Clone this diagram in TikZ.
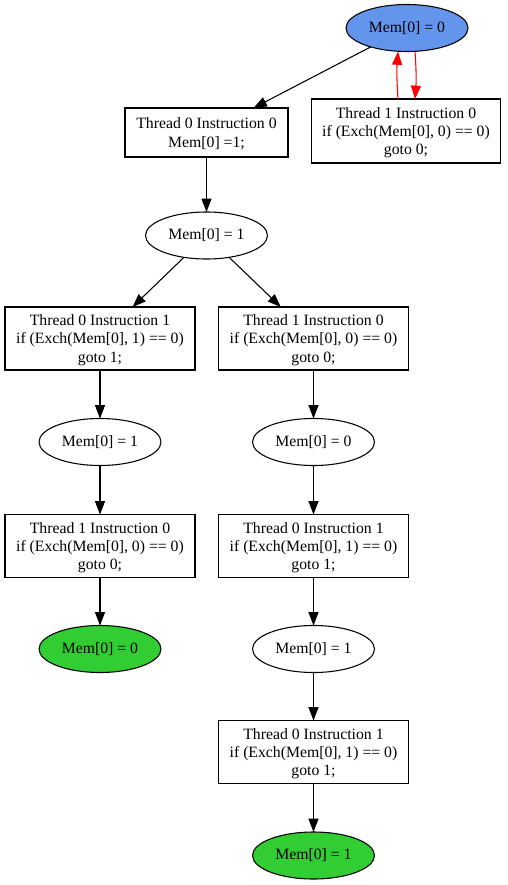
\documentclass[tikz,border=0pt]{standalone}
\usepackage{fontspec}
\setmainfont{Liberation Serif}
\newcommand*{\nodefont}{\fontsize{11.8pt}{13.75pt}\selectfont}
\definecolor{start}{RGB}{100,149,237}
\definecolor{final}{RGB}{50,205,50}
\definecolor{retry}{RGB}{255,0,0}
\usetikzlibrary{arrows.meta}
\usetikzlibrary{shapes.geometric}
\tikzstyle{base}=[x=0.75pt, y=-0.75pt, inner sep=0pt, outer sep=0pt]
\tikzstyle{state}=[draw=black, ellipse, line width=0.8pt, minimum width=91.5pt, minimum height=35.25pt]
\tikzstyle{instr}=[draw=black, rectangle, line width=0.8pt, align=center, minimum width=142.5pt, minimum height=47.25pt, text depth=-1.5pt]
\tikzstyle{arc}=[line width=0.8pt, -{Triangle[length=10pt,width=7.5pt]}]

\begin{document}
\begin{tikzpicture}[base]
    \nodefont
        \path [use as bounding box] (0,0) rectangle (507,885);
        \node [state, fill=start] (s0) at (407,28) {Mem[0] = 0};
        \node [instr, minimum width=122.25pt, minimum height=36.75pt] (t0) at (206.5,132.5) {Thread 0 Instruction 0\\Mem[0] =1;};
        \node [instr, minimum width=141.75pt, minimum height=48pt] (t1) at (406,131) {Thread 1 Instruction 0\\if (Exch(Mem[0], 0) == 0)\\goto 0;};
        \node [state] (s1) at (206.5,235.5) {Mem[0] = 1};
        \node [instr] (t2) at (100,338.5) {Thread 0 Instruction 1\\if (Exch(Mem[0], 1) == 0)\\goto 1;};
        \node [instr] (t3) at (313.5,338.5) {Thread 1 Instruction 0\\if (Exch(Mem[0], 0) == 0)\\goto 0;};
        \node [state] (s2) at (100,442) {Mem[0] = 1};
        \node [state] (s3) at (313.5,442) {Mem[0] = 0};
        \node [instr] (t4) at (100,546) {Thread 1 Instruction 0\\if (Exch(Mem[0], 0) == 0)\\goto 0;};
        \node [instr] (t5) at (313.5,546) {Thread 0 Instruction 1\\if (Exch(Mem[0], 1) == 0)\\goto 1;};
        \node [state, fill=final] (s4) at (100,649) {Mem[0] = 0};
        \node [state] (s5) at (313.5,649) {Mem[0] = 1};
        \node [instr] (t6) at (313.5,752) {Thread 0 Instruction 1\\if (Exch(Mem[0], 1) == 0)\\goto 1;};
        \node [state, fill=final] (s6) at (313.5,855.5) {Mem[0] = 1};
        \draw [arc] (s0) -- (t0);
        \draw [arc, retry] ([xshift=-6pt]t1.north) to [bend left=4] ([xshift=-6.75pt]s0.south);
        \draw [arc, retry] ([xshift=6pt]s0.south) to [bend left=4] ([xshift=6.75pt]t1.north);
        \draw [arc] (t0) -- (s1);
        \draw [arc] (s1) -- (t2);
        \draw [arc] (s1) -- (t3);
        \draw [arc] (t2) -- (s2);
        \draw [arc] (s2) -- (t4);
        \draw [arc] (t4) -- (s4);
        \draw [arc] (t3) -- (s3);
        \draw [arc] (s3) -- (t5);
        \draw [arc] (t5) -- (s5);
        \draw [arc] (s5) -- (t6);
        \draw [arc] (t6) -- (s6);
    \end{tikzpicture}
\end{document}
